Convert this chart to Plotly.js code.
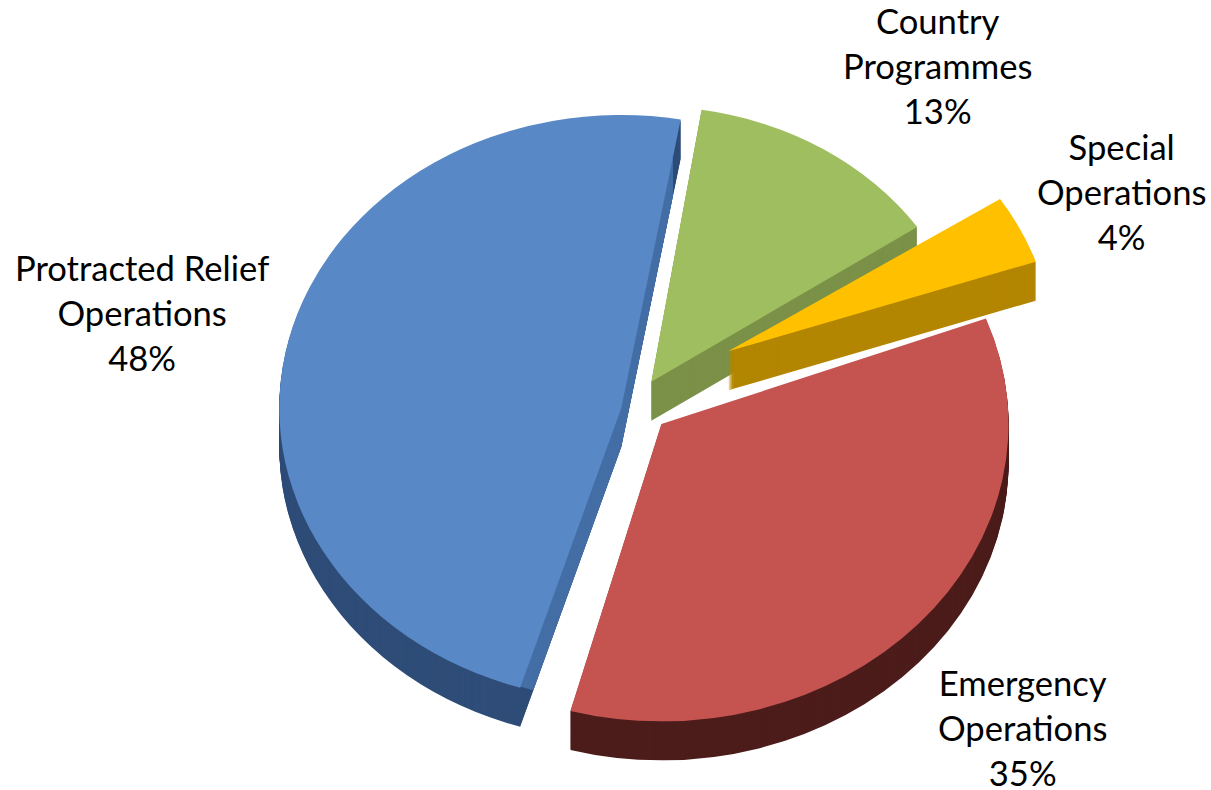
<!DOCTYPE html>
<html><head><meta charset="utf-8">
<script src="https://cdn.plot.ly/plotly-3.0.1.min.js"></script>
<style>html,body{margin:0;padding:0;background:#fff;overflow:hidden}#c{width:1211px;height:790px}#c text{font-variant-ligatures:none}</style>
</head><body><div id="c"></div>
<script>
var categories = ['Country Programmes','Special Operations','Emergency Operations','Protracted Relief Operations'];
var values = [13,4,35,48];
var pulls = [0.07,0.26,0.09,0.06];
var topColors = ['#9FBE5F','#FFC000','#C55451','#5888C6'];
var sideColors = ['#7B9148','#B38600','#4C1D1B','#2F4D78'];
var faceBlue = '#456FA6';
var labelLines = [['Country','Programmes','13%'],['Special','Operations','4%'],['Emergency','Operations','35%'],['Protracted Relief','Operations','48%']];
var labelPos = [[937,65],[1121,192],[1022,727],[142,312]];

var W=1211,H=790,DEPTH=39,T='rgba(0,0,0,0)';
var SX=1.254,SY=1.074,TX=-3.3,TY=-24.9;
var DY0=0.05,DH=0.87,DX0=0.14,DW=DH*H/W;
function pieTrace(cols,k,dx,dy,s,rot,pl){
  var cx=DX0+DW/2+dx/SX/W, cy=DY0+DH/2-(dy+k)/SY/H;
  return {type:'pie',values:values,labels:categories,sort:false,direction:'clockwise',rotation:rot,pull:pl||pulls,
    marker:{colors:cols,line:{width:0}},textinfo:'none',hoverinfo:'skip',showlegend:false,
    domain:{x:[cx-s*DW/2,cx+s*DW/2],y:[cy-s*DH/2,cy+s*DH/2]}};
}
function only(i,c){return categories.map(function(_,j){return j===i?c:T;});}
var data=[],k;
function stack(i,dx,dy,s,rot){
  for(var k=DEPTH;k>0;k--)data.push(pieTrace(only(i,sideColors[i]),k,dx,dy,s,rot));
  data.__last=null;
}
// protracted relief: dark rim, lighter cut face, top
stack(3,1,0,1,10);
var shrink=0.87, facePull=pulls.slice(); facePull[3]=pulls[3]/shrink;
for(k=DEPTH;k>0;k--)data.push(pieTrace(only(3,faceBlue),k,1,0,shrink,10,facePull));
data.push(pieTrace(only(3,topColors[3]),0,1,0,1,10));
// emergency
stack(2,-2,-6,1.015,8);
data.push(pieTrace(only(2,topColors[2]),0,-2,-6,1.015,8));
// country programmes
stack(0,-1,-14,0.94,9);
data.push(pieTrace(only(0,topColors[0]),0,-1,-14,0.94,9));
// special operations
stack(1,12,-29,0.95,10);
data.push(pieTrace(only(1,topColors[1]),0,12,-29,0.95,10));

var ann=[];
labelLines.forEach(function(ls,i){ann.push({xref:'paper',yref:'paper',x:labelPos[i][0]/W,y:1-labelPos[i][1]/H,
  text:ls.join('<br>'),showarrow:false,xanchor:'center',yanchor:'middle',align:'center',
  font:{family:'Lato, Carlito, sans-serif',size:34.6,color:'#000'}});});

Plotly.newPlot('c',data,{width:W,height:H,margin:{l:0,r:0,t:0,b:0},paper_bgcolor:'#fff',annotations:ann,showlegend:false},{staticPlot:true,displayModeBar:false}).then(function(){
  var p=document.querySelector('.pielayer');
  if(p)p.setAttribute('transform','translate('+TX+','+TY+') scale('+SX+','+SY+')');
});
</script></body></html>
